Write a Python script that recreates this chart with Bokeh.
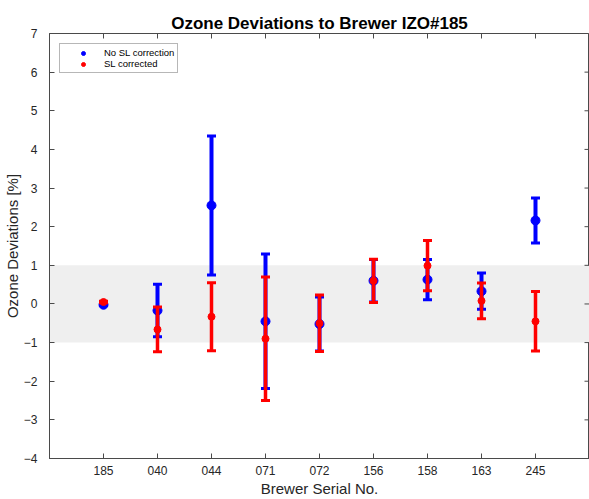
import numpy as np
from bokeh.plotting import figure
from bokeh.models import (ColumnDataSource, FixedTicker, Range1d,
                          BoxAnnotation, Legend, LegendItem)
from bokeh.embed import file_html
from bokeh.resources import INLINE

# ---- data ----
serials = ["185", "040", "044", "071", "072", "156", "158", "163", "245"]
no_sl_mean = [-0.02, -0.17, 2.55, -0.45, -0.52, 0.60, 0.63, 0.33, 2.16]
no_sl_err = [0.02, 0.68, 1.80, 1.74, 0.70, 0.55, 0.52, 0.47, 0.58]
sl_mean = [0.05, -0.66, -0.33, -0.90, -0.50, 0.60, 0.99, 0.08, -0.45]
sl_err = [0.02, 0.58, 0.88, 1.60, 0.73, 0.56, 0.65, 0.46, 0.77]
band_limits = [-1, 1]
y_ticks = list(range(-4, 8))
y_lim = [-4, 7]

FONT = "Liberation Sans"
AX = "#4a4a4a"
TXT = "#262626"

xs = list(range(1, len(serials) + 1))
x_lim = [0, len(serials) + 1]


def make_source(mean, err):
    m = np.array(mean)
    e = np.array(err)
    return ColumnDataSource(dict(x=xs, y=m, lo=m - e, hi=m + e))


src_blue = make_source(no_sl_mean, no_sl_err)
src_red = make_source(sl_mean, sl_err)

p = figure(width=589, height=499, x_range=Range1d(*x_lim),
           y_range=Range1d(*y_lim), output_backend="svg", toolbar_location=None,
           title="Ozone Deviations to Brewer IZO#185",
           min_border_left=48, min_border_right=0, min_border_top=33,
           min_border_bottom=41)

p.title.align = "center"
p.title.text_font = FONT
p.title.text_font_size = "17px"
p.title.text_font_style = "bold"
p.title.text_color = "#000000"
p.title.standoff = 2

p.background_fill_color = "white"
p.border_fill_color = "white"
p.outline_line_color = AX
p.xgrid.visible = False
p.ygrid.visible = False

band = BoxAnnotation(bottom=band_limits[0], top=band_limits[1],
                     fill_color="#efefef", fill_alpha=1.0, line_alpha=0,
                     level="underlay")
p.add_layout(band)


def style_axis(ax):
    ax.axis_line_color = AX
    ax.major_tick_line_color = AX
    ax.minor_tick_line_color = None
    ax.major_tick_in = 5
    ax.major_tick_out = 0
    ax.major_label_text_font = FONT
    ax.major_label_text_color = TXT
    ax.major_label_text_font_size = "12px"
    ax.axis_label_text_font = FONT
    ax.axis_label_text_color = TXT
    ax.axis_label_text_font_style = "normal"
    ax.axis_label_text_font_size = "15px"


p.xaxis.ticker = FixedTicker(ticks=xs)
p.xaxis.major_label_overrides = {x: s for x, s in zip(xs, serials)}
p.xaxis.axis_label = "Brewer Serial No."
p.xaxis.major_label_standoff = 7
p.xaxis.axis_label_standoff = 2
style_axis(p.xaxis[0])

p.yaxis.ticker = FixedTicker(ticks=y_ticks)
p.yaxis.axis_label = "Ozone Deviations [%]"
p.yaxis.major_label_standoff = 12
p.yaxis.axis_label_standoff = 0
style_axis(p.yaxis[0])

# box ticks on the top and right edges (matlab "box on" style)
p.scatter(x=xs, y=[y_lim[1]] * len(xs), marker="dash", angle=np.pi / 2,
          size=10, line_color=AX, line_width=1)
p.scatter(x=[x_lim[1]] * len(y_ticks), y=y_ticks, marker="dash",
          size=10, line_color=AX, line_width=1)


def draw_series(src, color, bar_w, marker_size):
    p.segment(x0="x", y0="lo", x1="x", y1="hi", source=src,
              line_color=color, line_width=bar_w)
    p.scatter(x="x", y="hi", source=src, marker="dash", size=9,
              line_color=color, line_width=3)
    p.scatter(x="x", y="lo", source=src, marker="dash", size=9,
              line_color=color, line_width=3)
    return p.scatter(x="x", y="y", source=src, marker="circle",
                     size=marker_size, fill_color=color, line_color=color)


r_blue = draw_series(src_blue, "#0000ff", 4, 9)
r_red = draw_series(src_red, "#ff0000", 3.5, 7)

legend = Legend(items=[LegendItem(label="No SL correction", renderers=[r_blue]),
                       LegendItem(label="SL corrected", renderers=[r_red])],
                location="top_left")
legend.margin = 10
legend.padding = 3
legend.spacing = 0
legend.glyph_width = 40
legend.glyph_height = 10
legend.label_height = 10
legend.label_standoff = 1
legend.label_text_font = FONT
legend.label_text_font_size = "9.5px"
legend.label_text_color = "#000000"
legend.border_line_color = "#707070"
legend.border_line_width = 1
legend.background_fill_color = "white"
legend.background_fill_alpha = 1.0
p.add_layout(legend)

open("out.html", "w").write(file_html(p, INLINE))
